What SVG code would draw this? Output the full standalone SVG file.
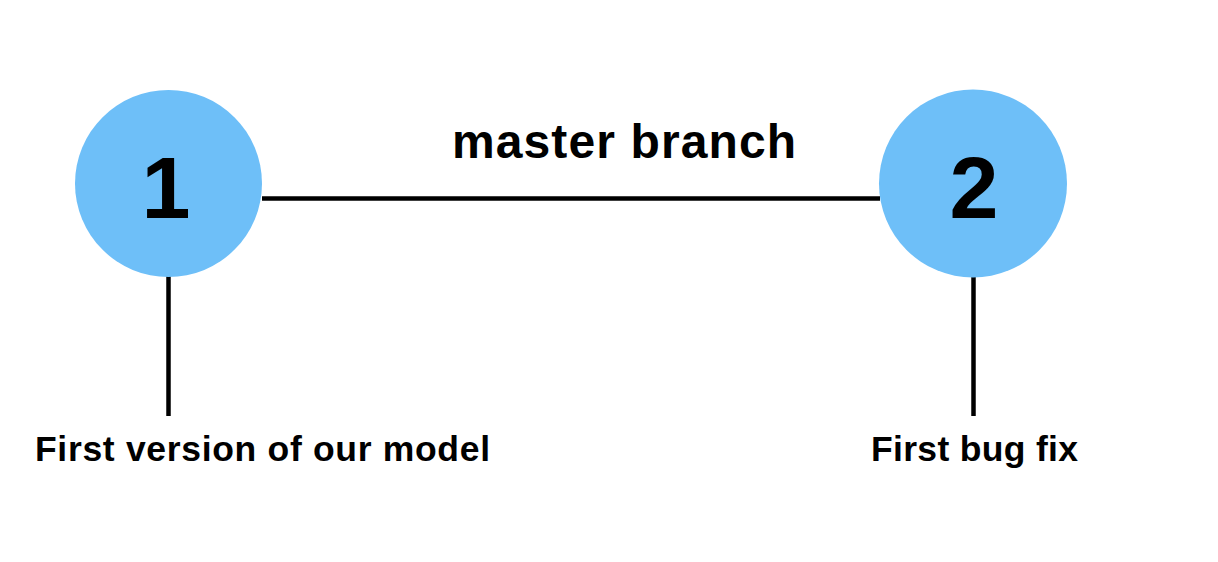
<svg xmlns="http://www.w3.org/2000/svg" width="1218" height="562" viewBox="0 0 1218 562">
  <style>
    .node { fill: #6EBFF8; }
    .num { font-family: "Liberation Sans", Arial, sans-serif; font-weight: bold; font-size: 88px; fill: #000; text-anchor: middle; }
    .lbl { font-family: "Liberation Sans", Arial, sans-serif; font-weight: bold; fill: #000; }
    .conn { stroke: #000; stroke-width: 4.5; fill: none; }
  </style>
  <rect width="1218" height="562" fill="#fff"/>
  <g id="connectors">
    <line class="conn" x1="262" y1="198.5" x2="880" y2="198.5"/>
    <line class="conn" x1="168.5" y1="276" x2="168.5" y2="416"/>
    <line class="conn" x1="973.5" y1="276" x2="973.5" y2="416"/>
  </g>
  <g id="node1">
    <circle class="node" cx="168.5" cy="183.5" r="93.5"/>
    <text class="num" x="166" y="218">1</text>
  </g>
  <g id="node2">
    <circle class="node" cx="973" cy="183.5" r="94"/>
    <text class="num" x="974" y="218">2</text>
  </g>
  <g id="label-branch">
    <text class="lbl" x="452" y="158" font-size="48" textLength="344" lengthAdjust="spacing">master branch</text>
  </g>
  <g id="label1">
    <text class="lbl" x="35" y="461" font-size="35.5" textLength="455" lengthAdjust="spacing">First version of our model</text>
  </g>
  <g id="label2">
    <text class="lbl" x="871" y="461" font-size="35.5" textLength="207" lengthAdjust="spacing">First bug fix</text>
  </g>
</svg>
